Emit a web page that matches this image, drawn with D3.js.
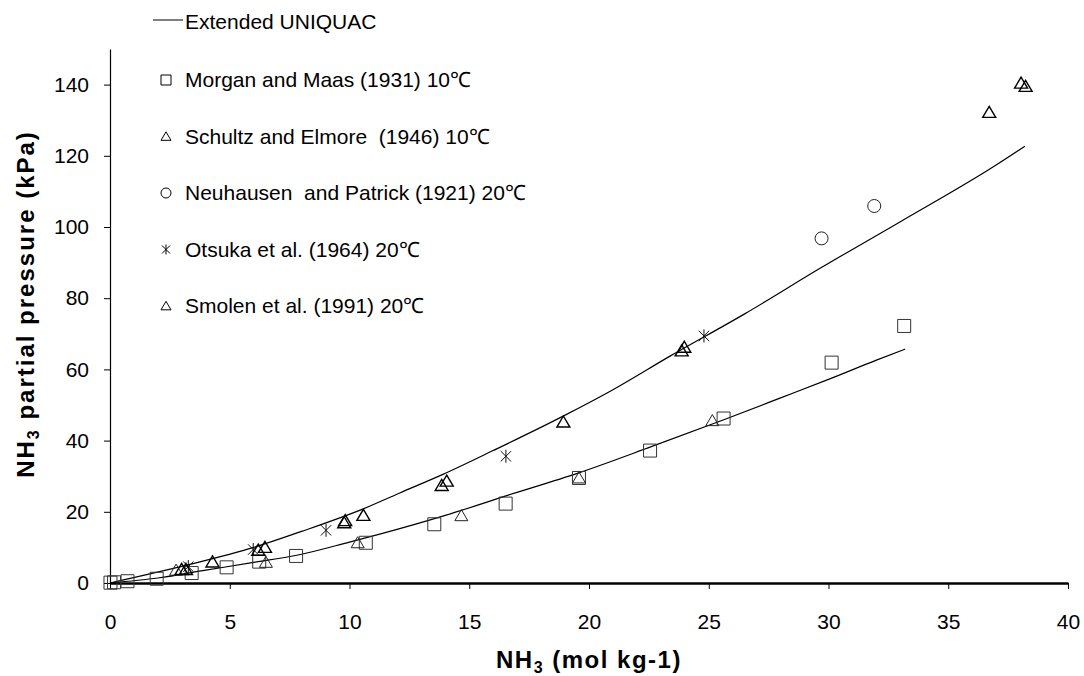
<!DOCTYPE html>
<html>
<head>
<meta charset="utf-8">
<script src="https://cdn.jsdelivr.net/npm/d3@7"></script>
<style>
  body { margin: 0; background: #fff; }
  text { font-family: "Liberation Sans", Arial, sans-serif; fill: #000; }
</style>
</head>
<body>
<div id="chart"></div>
<script>
var width = 1084;
var height = 676;
var margin = {top: 49, left: 110, right: 16, bottom: 93};

// measured points
var morganX = [0.02, 0.17, 0.73, 1.95, 3.41, 4.87, 6.23, 7.77, 10.68, 13.54, 16.52, 19.58, 22.55, 25.62, 30.13, 33.16];
var morganY = [0.1, 0.2, 0.5, 1.2, 2.8, 4.4, 6.0, 7.6, 11.3, 16.5, 22.3, 29.5, 37.2, 46.2, 61.9, 72.2];

var schultzX = [2.76, 6.51, 10.34, 14.67, 19.58, 25.15];
var schultzY = [3.6, 5.8, 11.3, 18.9, 29.5, 45.6];

var neuhausenX = [29.71, 31.91];
var neuhausenY = [96.8, 105.9];

var otsukaX = [3.27, 5.98, 9.02, 16.53, 24.8];
var otsukaY = [4.6, 9.4, 14.8, 35.6, 69.4];

var smolenX = [2.99, 3.17, 4.28, 6.19, 6.47, 9.78, 9.82, 10.58, 13.85, 14.06, 18.93, 23.87, 23.98, 36.71, 38.04, 38.23];
var smolenY = [3.8, 3.8, 5.9, 9.2, 10.0, 16.9, 17.5, 19.0, 27.4, 28.6, 45.2, 65.2, 66.2, 132.2, 140.4, 139.5];

// Extended UNIQUAC curves
var model20X = [0, 3.2, 6, 8, 10.6, 12.1, 13.9, 16, 18.9, 21, 23.4, 26.5, 29.7, 33, 36.9, 38.2];
var model20Y = [0, 5, 10, 14.5, 20.9, 25.3, 30.5, 37.2, 46.8, 54.3, 63.8, 75.6, 88.6, 101.5, 117, 122.7];
var model10X = [0, 2, 4, 6, 7.8, 10, 11.3, 14, 16.5, 19.6, 22.6, 25.6, 28, 30, 32, 33.2];
var model10Y = [0, 1.4, 3.6, 5.8, 7.8, 11.5, 13.8, 19.0, 24.4, 31.0, 38.3, 45.8, 52.0, 57.2, 62.6, 65.7];

var xTicks = [0, 5, 10, 15, 20, 25, 30, 35, 40];
var yTicks = [0, 20, 40, 60, 80, 100, 120, 140];

function pts(xs, ys) {
  return xs.map(function(d, i) { return {x: d, y: ys[i]}; });
}

var svg = d3.select("#chart")
  .append("svg")
  .attr("width", width)
  .attr("height", height);

var x = d3.scaleLinear().domain([0, 40]).range([margin.left, width - margin.right]);
var y = d3.scaleLinear().domain([0, 150]).range([height - margin.bottom, margin.top]);

// marker shapes
function shape(kind, s) {
  var h = s / 2;
  if (kind == "square") return "M" + (-h) + "," + (-h) + "h" + s + "v" + s + "h" + (-s) + "Z";
  if (kind == "triangle") {
    var th = s * 0.85;
    return "M0," + (-th * 0.55) + "L" + h + "," + (th * 0.45) + "L" + (-h) + "," + (th * 0.45) + "Z";
  }
  if (kind == "circle") return d3.arc()({innerRadius: 0, outerRadius: h, startAngle: 0, endAngle: 2 * Math.PI}).replace(/L0,0Z?/, "");
  if (kind == "star") {
    var k = h * 0.8;
    return "M" + (-k) + "," + (-k) + "L" + k + "," + k + "M" + (-k) + "," + k + "L" + k + "," + (-k) + "M0," + (-h) + "L0," + h;
  }
}

var series = [
  {name: "Morgan and Maas (1931) 10℃", kind: "square", data: pts(morganX, morganY), sw: 1, color: "#333"},
  {name: "Schultz and Elmore  (1946) 10℃", kind: "triangle", data: pts(schultzX, schultzY), sw: 1, color: "#222"},
  {name: "Neuhausen  and Patrick (1921) 20℃", kind: "circle", data: pts(neuhausenX, neuhausenY), sw: 1, color: "#222"},
  {name: "Otsuka et al. (1964) 20℃", kind: "star", data: pts(otsukaX, otsukaY), sw: 1, color: "#111"},
  {name: "Smolen et al. (1991) 20℃", kind: "triangle", data: pts(smolenX, smolenY), sw: 1.4, color: "#000"}
];

// axes
var xAxis = svg.append("g")
  .attr("transform", "translate(0," + y(0) + ")")
  .call(d3.axisBottom(x).tickValues(xTicks).tickSize(6).tickSizeOuter(0).tickFormat(d3.format("d")));
xAxis.select(".domain").attr("stroke", "#000").attr("stroke-width", 2.5);
xAxis.selectAll(".tick line").attr("stroke", "#000");
xAxis.selectAll(".tick text").attr("font-size", "21px").attr("y", 31)
  .style("font-family", "'Liberation Sans', Arial, sans-serif");

var yAxis = svg.append("g")
  .attr("transform", "translate(" + x(0) + ",0)")
  .call(d3.axisLeft(y).tickValues(yTicks).tickSize(6).tickSizeOuter(0).tickFormat(d3.format("d")));
yAxis.select(".domain").attr("stroke", "#000").attr("stroke-width", 1.2);
yAxis.selectAll(".tick line").attr("stroke", "#000");
yAxis.selectAll(".tick text").attr("font-size", "21px").attr("x", -21)
  .style("font-family", "'Liberation Sans', Arial, sans-serif");

// model lines
var line = d3.line().x(function(d) { return x(d.x); }).y(function(d) { return y(d.y); }).curve(d3.curveMonotoneX);
svg.append("path").datum(pts(model10X, model10Y))
  .attr("fill", "none").attr("stroke", "#000").attr("stroke-width", 1.2).attr("d", line);
svg.append("path").datum(pts(model20X, model20Y))
  .attr("fill", "none").attr("stroke", "#000").attr("stroke-width", 1.2).attr("d", line);

// points
series.forEach(function(s) {
  svg.append("g").selectAll("path")
    .data(s.data)
    .enter().append("path")
    .attr("transform", function(d) { return "translate(" + x(d.x) + "," + y(d.y) + ")"; })
    .attr("d", shape(s.kind, 13))
    .attr("fill", "none")
    .attr("stroke", s.color)
    .attr("stroke-width", s.sw);
});

// legend
var leg = svg.append("g");
leg.append("line").attr("x1", 153).attr("x2", 183).attr("y1", 20).attr("y2", 20)
  .attr("stroke", "#000").attr("stroke-width", 1);
leg.append("text").attr("x", 185).attr("y", 29).attr("font-size", "21px").text("Extended UNIQUAC");

series.forEach(function(s, i) {
  var by = 87 + i * 56.5;
  leg.append("path")
    .attr("transform", "translate(166," + (by - 7) + ")")
    .attr("d", shape(s.kind, 10))
    .attr("fill", "none")
    .attr("stroke", "#000")
    .attr("stroke-width", 1);
  leg.append("text").attr("x", 185).attr("y", by).attr("font-size", "21px")
    .style("white-space", "pre")
    .text(s.name);
});

// axis titles
var xt = svg.append("text")
  .attr("x", (x(0) + x(40)) / 2)
  .attr("y", 668)
  .attr("text-anchor", "middle")
  .attr("font-size", "24px")
  .attr("letter-spacing", "1.5px")
  .attr("font-weight", "bold");
xt.append("tspan").text("NH");
xt.append("tspan").attr("font-size", "16px").attr("dy", 5).text("3");
xt.append("tspan").attr("dy", -5).text(" (mol kg-1)");

var yt = svg.append("text")
  .attr("transform", "translate(34,304) rotate(-90)")
  .attr("text-anchor", "middle")
  .attr("font-size", "24px")
  .attr("letter-spacing", "2px")
  .attr("font-weight", "bold");
yt.append("tspan").text("NH");
yt.append("tspan").attr("font-size", "16px").attr("dy", 5).text("3");
yt.append("tspan").attr("dy", -5).text(" partial pressure (kPa)");
</script>
</body>
</html>
